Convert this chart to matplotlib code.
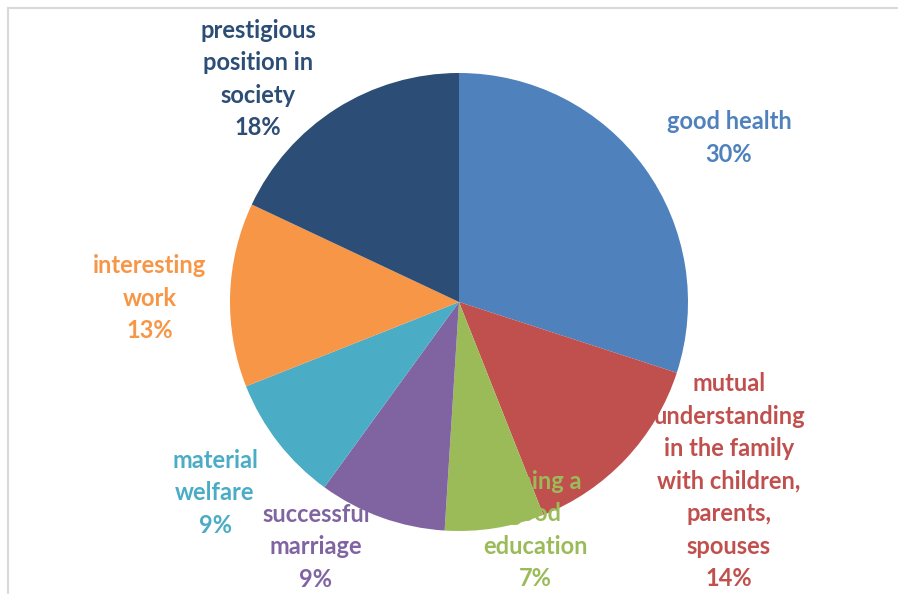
import matplotlib
matplotlib.use('Agg')
import matplotlib.pyplot as plt
from matplotlib.lines import Line2D

# shares in percent, clockwise from 12 o'clock
labels = ['good health',
          'mutual\nunderstanding\nin the family\nwith children,\nparents,\nspouses',
          'gaining a\ngood\neducation',
          'successful\nmarriage',
          'material\nwelfare',
          'interesting\nwork',
          'prestigious\nposition in\nsociety']
shares = [30, 14, 7, 9, 9, 13, 18]
colors = ['#4f81bd', '#c0504d', '#9bbb59', '#8064a2', '#4bacc6', '#f79646', '#2c4d75']
# label block centres in pixels (x, y from top)
label_pos = [(729, 138), (729, 481), (535, 530), (316, 547), (215, 493), (150, 298), (258, 79)]

W, H = 898, 594
cx, cy, r = 459, 302, 229

fig = plt.figure(figsize=(W / 100, H / 100), dpi=100)
fig.patch.set_facecolor('white')

# thin grey frame (top and left edges visible)
fig.add_artist(Line2D([8 / W, 1], [1 - 8 / H, 1 - 8 / H], color='#d9d9d9', lw=1.5))
fig.add_artist(Line2D([8 / W, 8 / W], [0, 1 - 8 / H], color='#d9d9d9', lw=1.5))

ax = fig.add_axes([(cx - r) / W, (H - cy - r) / H, 2 * r / W, 2 * r / H])
ax.pie(shares, colors=colors, startangle=90, counterclock=False, radius=1,
       wedgeprops=dict(linewidth=0))
ax.set_xlim(-1, 1)
ax.set_ylim(-1, 1)
ax.set_aspect('equal')
ax.axis('off')

for lab, val, col, (px, py) in zip(labels, shares, colors, label_pos):
    fig.text(px / W, 1 - py / H, '{}\n{}%'.format(lab, val), color=col,
             ha='center', va='center', fontsize=17, fontweight='bold',
             family=['Lato', 'DejaVu Sans'], linespacing=1.5)

fig.savefig('out.png', dpi=100)
